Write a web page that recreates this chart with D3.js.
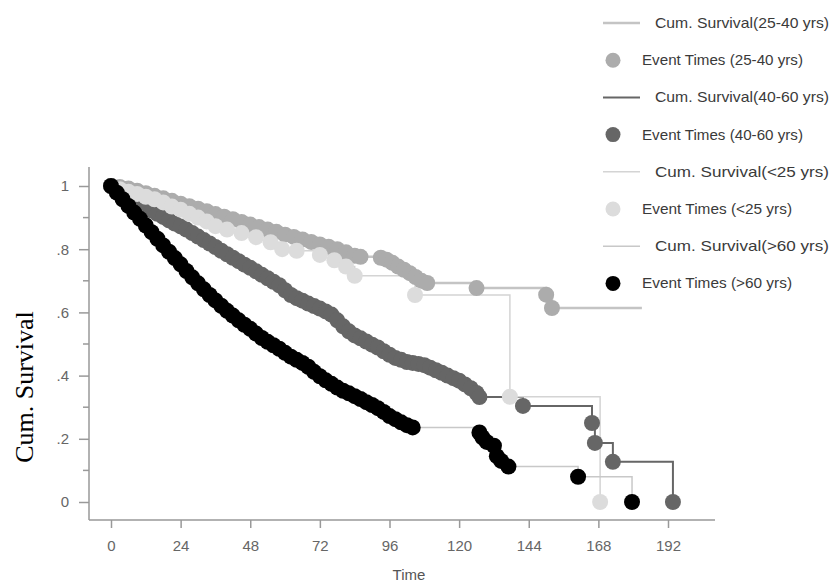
<!DOCTYPE html>
<html lang="en">
<head>
<meta charset="utf-8">
<title>Cum. Survival by age group</title>
<script src="https://d3js.org/d3.v7.min.js"></script>
<style>
  body { margin: 0; background: #fff; }
  .axis line, .axis path { stroke: #999; stroke-width: 1.5; }
  .axis text { fill: #666; font-family: "Liberation Sans", Arial, sans-serif; font-size: 15px; }
  .legend text { fill: #3a3a3a; font-family: "Liberation Sans", Arial, sans-serif; font-size: 15px; }
</style>
</head>
<body>
<div id="chart"></div>
<script>
// event times (months) and cumulative survival after each event
const t2540 = [0,3,6,9,12,15,18,21,24,27,30,33,36,39,42,45,48,51,54,57,60,63,66,69,72,75,78,81,84,86,93,95,97,99,101,103,105,107,109,126,150,152];
const s2540 = [1,.997,.992,.985,.977,.969,.961,.953,.944,.936,.928,.920,.911,.903,.895,.886,.878,.870,.862,.855,.846,.839,.831,.823,.815,.808,.800,.790,.779,.776,.773,.767,.757,.745,.735,.724,.712,.700,.693,.677,.656,.614];
const end2540 = 183;

const t4060 = [0,2,4,6,8,10,12,14,16,18,20,22,24,26,28,30,32,34,36,38,40,42,44,46,48,50,52,54,56,58,60,62,64,66,68,70,72,74,76,78,80,82,84,86,88,90,92,94,96,98,100,102,104,106,108,110,112,114,116,118,120,122,124,126,127,142,165.8,166.8,173,193.7];
const s4060 = [1,.99,.98,.97,.958,.946,.932,.922,.912,.902,.891,.881,.872,.862,.851,.840,.829,.818,.807,.795,.784,.773,.762,.751,.741,.730,.719,.708,.697,.686,.670,.655,.645,.637,.628,.620,.612,.603,.593,.575,.556,.540,.527,.518,.508,.498,.489,.477,.466,.456,.450,.443,.440,.437,.433,.425,.417,.409,.400,.392,.384,.372,.360,.345,.332,.304,.250,.187,.127,0];

const tU25 = [0,3,6,9,12,15,18,21,24,27,30,33,36,40,45,50,55,59,64,72,77,81,84,104.8,137.5,168.6];
const sU25 = [1,.99,.982,.975,.966,.958,.948,.935,.925,.912,.900,.888,.873,.862,.851,.838,.822,.800,.795,.782,.765,.745,.716,.655,.333,0];

const tO60 = [0,2,4,6,8,10,12,14,16,18,20,22,24,26,28,30,32,34,36,38,40,42,44,46,48,50,52,54,56,58,60,62,64,66,68,70,72,74,76,78,80,82,84,86,88,90,92,94,96,98,100,102,104,127,128,129.5,132,133,134.5,137,161,179.6];
const sO60 = [1,.979,.958,.937,.916,.896,.875,.854,.833,.812,.792,.772,.752,.731,.711,.692,.673,.655,.638,.621,.605,.590,.575,.561,.548,.533,.519,.507,.496,.485,.472,.460,.450,.440,.428,.412,.398,.385,.374,.362,.352,.344,.335,.326,.316,.307,.297,.285,.272,.262,.252,.243,.236,.220,.205,.190,.178,.145,.130,.112,.080,0];

const xTicks = [0,24,48,72,96,120,144,168,192];
const yTicks = [0,.2,.4,.6,.8,1];
const yMinor = [.1,.3,.5,.7,.9];

const groups = [
  {name: "25-40 yrs", t: t2540, s: s2540, end: end2540, line: "#c4c4c4", lw: 2.5, dot: "#acacac"},
  {name: "40-60 yrs", t: t4060, s: s4060, end: null, line: "#666666", lw: 2, dot: "#666666"},
  {name: "<25 yrs", t: tU25, s: sU25, end: null, line: "#d4d4d4", lw: 1.5, dot: "#dcdcdc"},
  {name: ">60 yrs", t: tO60, s: sO60, end: null, line: "#c8c8c8", lw: 1.5, dot: "#000000"}
];

const width = 831, height = 583;
const svg = d3.select("#chart").append("svg")
    .attr("width", width)
    .attr("height", height);

const x = d3.scaleLinear().domain([0, 192]).range([111, 668]);
const y = d3.scaleLinear().domain([0, 1]).range([502, 186]);

// axes
const yAxis = svg.append("g")
    .attr("class", "axis")
    .attr("transform", "translate(89,0)")
    .call(d3.axisLeft(y).tickValues(yTicks).tickSize(10).tickPadding(10)
        .tickFormat(d => d == 0 ? "0" : d == 1 ? "1" : d3.format(".1f")(d).replace("0.", ".")));
yAxis.select(".domain").remove();
yAxis.append("g").selectAll("line")
    .data(yMinor).join("line")
    .attr("x1", -6).attr("x2", 0)
    .attr("y1", d => y(d)).attr("y2", d => y(d));

const xAxis = svg.append("g")
    .attr("class", "axis")
    .attr("transform", "translate(0,520)")
    .call(d3.axisBottom(x).tickValues(xTicks).tickSize(8).tickPadding(12));
xAxis.select(".domain").remove();

svg.append("line").attr("class", "axisline")
    .attr("x1", 89).attr("x2", 89).attr("y1", 167).attr("y2", 520)
    .attr("stroke", "#999").attr("stroke-width", 1.5);
svg.append("line").attr("class", "axisline")
    .attr("x1", 89).attr("x2", 715).attr("y1", 520).attr("y2", 520)
    .attr("stroke", "#999").attr("stroke-width", 1.5);

svg.append("text")
    .attr("x", 409).attr("y", 580)
    .attr("text-anchor", "middle")
    .attr("font-family", "Liberation Sans, Arial, sans-serif")
    .attr("font-size", "15px")
    .attr("fill", "#555")
    .text("Time");

svg.append("text")
    .attr("transform", "translate(33,387) rotate(-90)")
    .attr("text-anchor", "middle")
    .attr("font-family", "Liberation Serif, Times New Roman, serif")
    .attr("font-size", "26px")
    .attr("fill", "#000")
    .text("Cum. Survival");

// survival step lines
const line = d3.line()
    .x(d => x(d[0]))
    .y(d => y(d[1]))
    .curve(d3.curveStepAfter);

groups.forEach(g => {
    let pts = g.t.map((t, i) => [t, g.s[i]]);
    if (g.end) pts.push([g.end, g.s[g.s.length - 1]]);
    svg.append("path")
        .datum(pts)
        .attr("fill", "none")
        .attr("stroke", g.line)
        .attr("stroke-width", g.lw)
        .attr("d", line);
});

// event markers
groups.forEach(g => {
    svg.append("g").selectAll("circle")
        .data(g.t.map((t, i) => [t, g.s[i]]))
        .join("circle")
        .attr("cx", d => x(d[0]))
        .attr("cy", d => y(d[1]))
        .attr("r", 8)
        .attr("fill", g.dot);
});

// legend
const legend = svg.append("g").attr("class", "legend");
const rowY = i => 23 + i * 37.2;
groups.forEach((g, k) => {
    let i = k * 2;
    legend.append("line")
        .attr("x1", 603).attr("x2", 640)
        .attr("y1", rowY(i)).attr("y2", rowY(i))
        .attr("stroke", g.line).attr("stroke-width", g.lw);
    legend.append("text")
        .attr("x", 655).attr("y", rowY(i) + 5)
        .attr("textLength", 174).attr("lengthAdjust", "spacingAndGlyphs")
        .text("Cum. Survival(" + g.name + ")");
    legend.append("circle")
        .attr("cx", 613).attr("cy", rowY(i + 1))
        .attr("r", 7.5).attr("fill", g.dot);
    legend.append("text")
        .attr("x", 642).attr("y", rowY(i + 1) + 5)
        .attr("textLength", g.name.length > 7 ? 161 : 150).attr("lengthAdjust", "spacingAndGlyphs")
        .text("Event Times (" + g.name + ")");
});
</script>
</body>
</html>
